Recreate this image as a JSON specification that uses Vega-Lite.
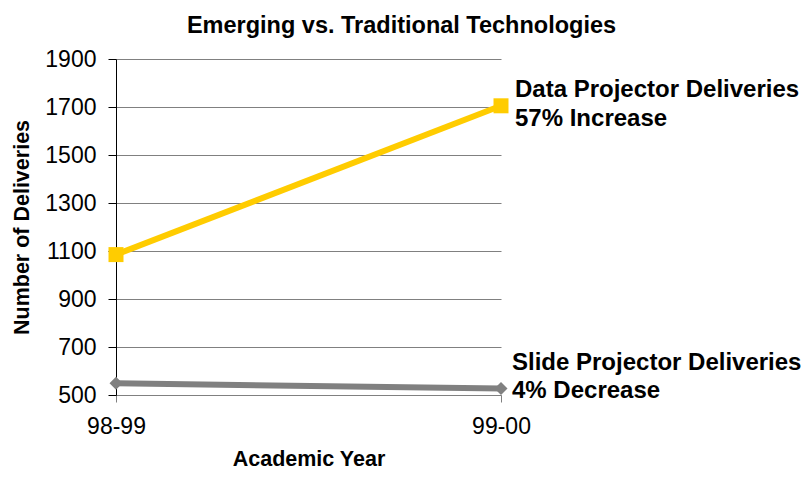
{
  "$schema": "https://vega.github.io/schema/vega-lite/v6.json",
  "width": 385,
  "height": 336,
  "autosize": {"type": "none"},
  "padding": {"left": 116, "top": 59, "right": 303, "bottom": 83},
  "background": "white",
  "title": {
    "text": "Emerging vs. Traditional Technologies",
    "font": "Liberation Sans",
    "fontSize": 23.5,
    "fontWeight": "bold",
    "color": "black",
    "anchor": "middle",
    "dx": 93,
    "dy": -7
  },
  "config": {
    "view": {"stroke": null},
    "font": "Liberation Sans"
  },
  "data": {
    "values": [
      {"year": "98-99", "series": "Data Projector Deliveries", "deliveries": 1085},
      {"year": "99-00", "series": "Data Projector Deliveries", "deliveries": 1705},
      {"year": "98-99", "series": "Slide Projector Deliveries", "deliveries": 549},
      {"year": "99-00", "series": "Slide Projector Deliveries", "deliveries": 527}
    ]
  },
  "encoding": {
    "x": {
      "field": "year",
      "type": "ordinal",
      "scale": {"type": "point", "padding": 0},
      "axis": {
        "title": "Academic Year",
        "titleFont": "Liberation Sans",
        "titleFontSize": 21.5,
        "titleFontWeight": "bold",
        "titleColor": "black",
        "titlePadding": 10,
        "labelFont": "Liberation Sans",
        "labelFontSize": 23,
        "labelColor": "black",
        "labelAngle": 0,
        "labelPadding": 13,
        "domainColor": "#808080",
        "tickColor": "#808080",
        "tickSize": 7,
        "grid": false
      }
    },
    "y": {
      "field": "deliveries",
      "type": "quantitative",
      "scale": {"domain": [500, 1900], "nice": false, "zero": false},
      "axis": {
        "values": [500, 700, 900, 1100, 1300, 1500, 1700, 1900],
        "format": "d",
        "title": "Number of Deliveries",
        "titleFont": "Liberation Sans",
        "titleFontSize": 21.5,
        "titleFontWeight": "bold",
        "titleColor": "black",
        "titlePadding": 11,
        "labelFont": "Liberation Sans",
        "labelFontSize": 23,
        "labelColor": "black",
        "labelPadding": 12,
        "domainColor": "black",
        "tickColor": "black",
        "tickSize": 8,
        "grid": true,
        "gridColor": "#808080",
        "gridWidth": 1
      }
    },
    "color": {
      "field": "series",
      "type": "nominal",
      "scale": {
        "domain": ["Data Projector Deliveries", "Slide Projector Deliveries"],
        "range": ["#FFCC00", "#808080"]
      },
      "legend": null
    }
  },
  "layer": [
    {"mark": {"type": "line", "strokeWidth": 6}},
    {
      "mark": {"type": "point", "filled": true, "opacity": 1},
      "encoding": {
        "shape": {
          "field": "series",
          "type": "nominal",
          "scale": {
            "domain": ["Data Projector Deliveries", "Slide Projector Deliveries"],
            "range": ["square", "diamond"]
          },
          "legend": null
        },
        "size": {
          "field": "series",
          "type": "nominal",
          "scale": {
            "domain": ["Data Projector Deliveries", "Slide Projector Deliveries"],
            "range": [225, 170]
          },
          "legend": null
        }
      }
    },
    {
      "transform": [
        {"filter": "datum.year == '99-00' && datum.series == 'Data Projector Deliveries'"},
        {"calculate": "['Data Projector Deliveries', '57% Increase']", "as": "label"}
      ],
      "mark": {
        "type": "text",
        "align": "left",
        "baseline": "alphabetic",
        "dx": 14,
        "dy": -9,
        "lineHeight": 29,
        "font": "Liberation Sans",
        "fontSize": 24,
        "fontWeight": "bold"
      },
      "encoding": {
        "text": {"field": "label"},
        "color": {"value": "black"}
      }
    },
    {
      "transform": [
        {"filter": "datum.year == '99-00' && datum.series == 'Slide Projector Deliveries'"},
        {"calculate": "['Slide Projector Deliveries', '4% Decrease']", "as": "label"}
      ],
      "mark": {
        "type": "text",
        "align": "left",
        "baseline": "alphabetic",
        "dx": 11,
        "dy": -19,
        "lineHeight": 28,
        "font": "Liberation Sans",
        "fontSize": 24,
        "fontWeight": "bold"
      },
      "encoding": {
        "text": {"field": "label"},
        "color": {"value": "black"}
      }
    }
  ]
}
